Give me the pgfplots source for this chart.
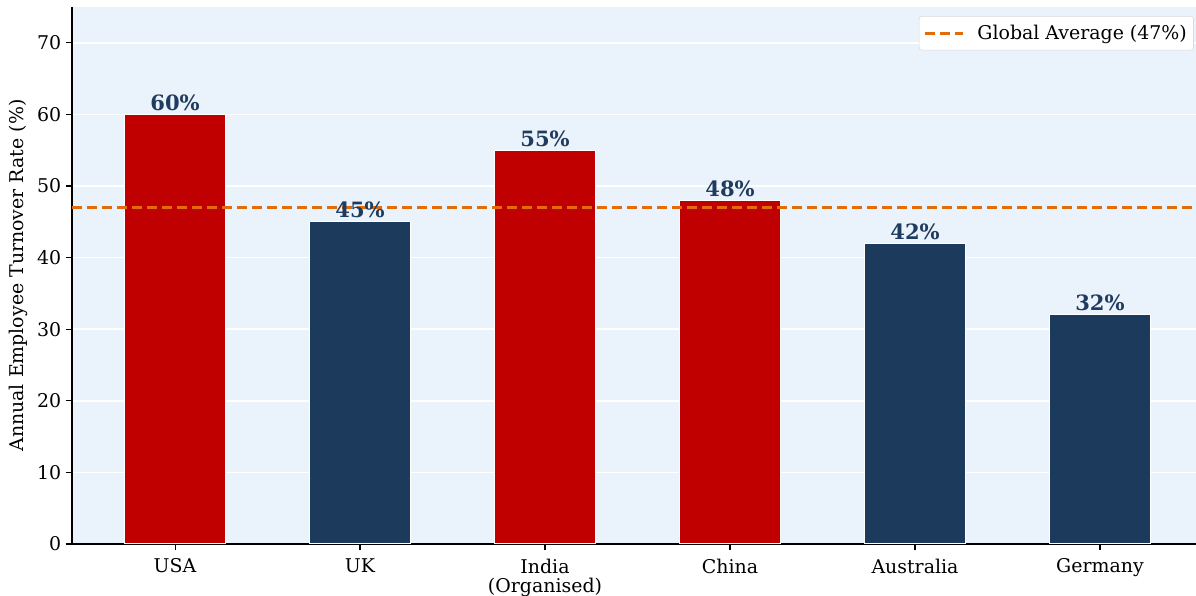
\documentclass[border=0pt]{standalone}
\usepackage{fontspec}
\setmainfont{DejaVu Serif}
\usepackage{pgfplots}
\pgfplotsset{compat=1.18}
\definecolor{redbar}{HTML}{C00000}
\definecolor{navy}{HTML}{1B3A5C}
\definecolor{bg}{HTML}{EAF2FB}
\definecolor{avg}{HTML}{E36C0A}
\definecolor{lbl}{HTML}{1F3B5E}
\begin{document}
\begin{tikzpicture}
\path[use as bounding box] (-54pt,-39pt) rectangle (843pt,408pt);
\begin{axis}[
  at={(0,0)}, anchor=south west,
  scale only axis, width=843pt, height=402.75pt,
  xmin=-0.557, xmax=5.519, ymin=0, ymax=75,
  axis x line=bottom, axis y line=left,
  axis line style={-, black, line width=0.9pt},
  axis background/.style={fill=bg},
  ymajorgrids, major grid style={white, line width=1.1pt},
  ytick={0,10,...,70},
  xtick={0,...,5},
  xticklabels={USA,UK,{India\\(Organised)},China,Australia,Germany},
  xticklabel style={align=center, font=\fontsize{14.2}{14.5}\selectfont, yshift=-3pt},
  yticklabel style={font=\fontsize{14.2}{15}\selectfont},
  /pgf/number format/assume math mode=true,
  tick align=outside, major tick length=4.5pt,
  tick style={black, line width=0.8pt},
  ylabel={Annual Employee Turnover Rate (\%)},
  ylabel style={font=\fontsize{14.2}{15}\selectfont, yshift=0pt},
  legend style={at={(0.998,0.983)}, anchor=north east, draw=black!15, rounded corners=2pt, fill=white, font=\fontsize{14.2}{15}\selectfont, inner xsep=3pt, inner ysep=4.5pt},
  legend image code/.code={\draw[#1] (0cm,0cm) -- (1cm,0cm);},
  legend cell align=left,
  nodes near coords={\pgfmathprintnumber{\pgfplotspointmeta}\%},
  nodes near coords style={font=\bfseries\fontsize{15.8}{16}\selectfont, text=lbl, anchor=south, yshift=-1pt},
]
\addplot[ybar, bar shift=0pt, bar width=0.55, fill=redbar, draw=white, line width=0.8pt, forget plot]
  coordinates {(0,60) (2,55) (3,48)};
\addplot[ybar, bar shift=0pt, bar width=0.55, fill=navy, draw=white, line width=0.8pt, forget plot]
  coordinates {(1,45) (4,42) (5,32)};
\addplot[avg, line width=2.2pt, dash pattern=on 7.5pt off 3.75pt, nodes near coords={}]
  coordinates {(-0.557,47) (5.519,47)};
\addlegendentry{\hspace{8pt}Global Average (47\%)}
\end{axis}
\end{tikzpicture}
\end{document}
